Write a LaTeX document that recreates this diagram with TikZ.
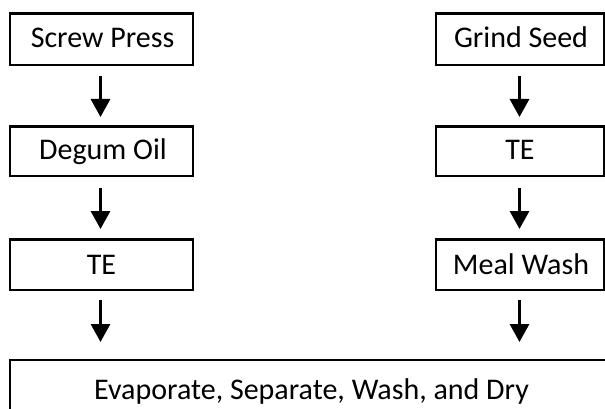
\documentclass[tikz,border=0pt]{standalone}
\usepackage{fontspec}
\setmainfont{Carlito}
\usetikzlibrary{arrows.meta}
\begin{document}
\begin{tikzpicture}[x=1pt,y=-1pt,
  stepbox/.style={draw=black,line width=2.4pt,inner sep=0pt},
  lbl/.style={font=\fontsize{30}{30}\selectfont,anchor=base,inner sep=0pt},
  flow/.style={line width=3.2pt,-{Triangle[length=18pt,width=19pt]}}]
\useasboundingbox (0,0) rectangle (605,409);
\clip (0,0) rectangle (605,409);
% left column
\draw[stepbox] (10,13.5) rectangle (193,65);
\node[lbl] (sp) at (102.5,48) {Screw Press};
\draw[stepbox] (10,126.5) rectangle (193,176);
\node[lbl] (dg) at (103,160) {Degum Oil};
\draw[stepbox] (10,239.5) rectangle (193,290);
\node[lbl] (te1) at (101.5,274) {TE};
% right column
\draw[stepbox] (436,13.5) rectangle (604,65);
\node[lbl] (gs) at (521,48) {Grind Seed};
\draw[stepbox] (436,126.5) rectangle (604,176);
\node[lbl] (te2) at (520,160) {TE};
\draw[stepbox] (436,239.5) rectangle (604,290);
\node[lbl] (mw) at (521,274) {Meal Wash};
% bottom
\draw[stepbox] (10,360) rectangle (620,430);
\node[lbl] (ev) at (311.5,399) {Evaporate, Separate, Wash, and Dry};
% arrows
\coordinate (a1s) at (100.5,76); \coordinate (a1e) at (100.5,117);
\coordinate (a2s) at (100.5,188); \coordinate (a2e) at (100.5,229);
\coordinate (a3s) at (100.5,300); \coordinate (a3e) at (100.5,342);
\coordinate (b1s) at (519.5,76); \coordinate (b1e) at (519.5,117);
\coordinate (b2s) at (519.5,188); \coordinate (b2e) at (519.5,229);
\coordinate (b3s) at (519.5,300); \coordinate (b3e) at (519.5,342);
\draw[flow] (a1s) -- (a1e);
\draw[flow] (a2s) -- (a2e);
\draw[flow] (a3s) -- (a3e);
\draw[flow] (b1s) -- (b1e);
\draw[flow] (b2s) -- (b2e);
\draw[flow] (b3s) -- (b3e);
\end{tikzpicture}
\end{document}
